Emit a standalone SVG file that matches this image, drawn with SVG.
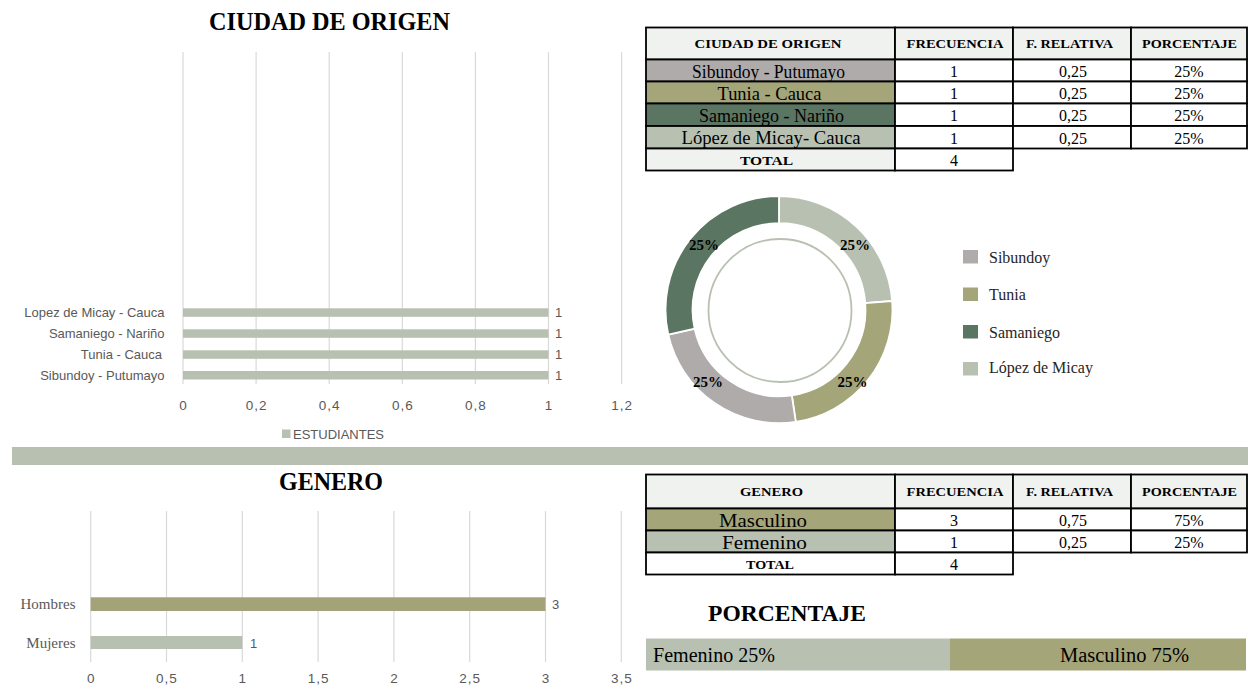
<svg xmlns="http://www.w3.org/2000/svg" width="1248" height="690" viewBox="0 0 1248 690">
<style>
.serif{font-family:"Liberation Serif","Times New Roman",serif}
.sans{font-family:"Liberation Sans",Arial,sans-serif}
.grid{stroke:#d9d9d9;stroke-width:1.2}
.cell{stroke:#000;stroke-width:1.8}
.hdr{font-family:"Liberation Serif","Times New Roman",serif;font-weight:bold;font-size:12px;fill:#000}
.body{font-family:"Liberation Serif","Times New Roman",serif;font-size:19px;fill:#000}
.num{font-family:"Liberation Serif","Times New Roman",serif;font-size:16px;fill:#000}
.title{font-family:"Liberation Serif","Times New Roman",serif;font-weight:bold;fill:#000}
.axis{font-family:"Liberation Sans",Arial,sans-serif;font-size:13.5px;fill:#595959;letter-spacing:1px}
.cat{font-family:"Liberation Sans",Arial,sans-serif;font-size:13px;fill:#595959}
.catS{font-family:"Liberation Serif","Times New Roman",serif;font-size:15px;fill:#595959}
.leg{font-family:"Liberation Serif","Times New Roman",serif;font-size:16px;fill:#262626}
.pct{font-family:"Liberation Serif","Times New Roman",serif;font-weight:bold;font-size:15px;fill:#000}
.c-sib{fill:#afabab}
.c-tun{fill:#a5a57a}
.c-sam{fill:#5b7563}
.c-lop{fill:#b8c1b1}
.c-hdr{fill:#f0f2f0}
</style>
<rect width="1248" height="690" fill="#fff"/>

<!-- Top-left bar chart -->
<g id="chart-ciudad">
  <text class="title" x="209" y="29.5" font-size="25.5" textLength="241" lengthAdjust="spacingAndGlyphs">CIUDAD DE ORIGEN</text>
  <g id="grid-top">
    <line class="grid" x1="183" y1="52" x2="183" y2="384"/>
    <line class="grid" x1="256.1" y1="52" x2="256.1" y2="384"/>
    <line class="grid" x1="329.2" y1="52" x2="329.2" y2="384"/>
    <line class="grid" x1="402.3" y1="52" x2="402.3" y2="384"/>
    <line class="grid" x1="475.4" y1="52" x2="475.4" y2="384"/>
    <line class="grid" x1="548.5" y1="52" x2="548.5" y2="384"/>
    <line class="grid" x1="621.6" y1="52" x2="621.6" y2="384"/>
  </g>
  <g id="bars-top" class="c-lop">
    <rect x="183" y="308.3" width="365.5" height="8.5"/>
    <rect x="183" y="329.3" width="365.5" height="8.5"/>
    <rect x="183" y="350.3" width="365.5" height="8.5"/>
    <rect x="183" y="371" width="365.5" height="8.5"/>
  </g>
  <g text-anchor="end">
    <text class="cat" x="164.5" y="316.5">Lopez de Micay - Cauca</text>
    <text class="cat" x="164.5" y="337.5">Samaniego - Nariño</text>
    <text class="cat" x="162" y="358.5">Tunia - Cauca</text>
    <text class="cat" x="164.5" y="379.5">Sibundoy - Putumayo</text>
  </g>
  <g>
    <text class="cat" x="555" y="316.5">1</text>
    <text class="cat" x="555" y="337.5">1</text>
    <text class="cat" x="555" y="358.5">1</text>
    <text class="cat" x="555" y="379.5">1</text>
  </g>
  <g text-anchor="middle">
    <text class="axis" x="183.5" y="410">0</text>
    <text class="axis" x="256.6" y="410">0,2</text>
    <text class="axis" x="329.7" y="410">0,4</text>
    <text class="axis" x="402.8" y="410">0,6</text>
    <text class="axis" x="475.9" y="410">0,8</text>
    <text class="axis" x="549" y="410">1</text>
    <text class="axis" x="622.1" y="410">1,2</text>
  </g>
  <rect class="c-lop" x="282" y="429.5" width="8.5" height="8.5"/>
  <text class="cat" x="293" y="439" font-size="12.5">ESTUDIANTES</text>
</g>

<!-- Top table -->
<g id="table-ciudad">
  <rect class="cell c-hdr" x="646" y="27.5" width="249" height="32"/>
  <rect class="cell c-hdr" x="895" y="27.5" width="118" height="32"/>
  <rect class="cell c-hdr" x="1013" y="27.5" width="118" height="32"/>
  <rect class="cell c-hdr" x="1131" y="27.5" width="116" height="32"/>
  <rect class="cell c-sib" x="646" y="59.5" width="249" height="22"/>
  <rect class="cell c-tun" x="646" y="81.5" width="249" height="22"/>
  <rect class="cell c-sam" x="646" y="103.5" width="249" height="22.5"/>
  <rect class="cell c-lop" x="646" y="126" width="249" height="22.5"/>
  <rect class="cell c-hdr" x="646" y="148.5" width="249" height="22"/>
  <g fill="#fff">
    <rect class="cell" x="895" y="59.5" width="118" height="22"/>
    <rect class="cell" x="1013" y="59.5" width="118" height="22"/>
    <rect class="cell" x="1131" y="59.5" width="116" height="22"/>
    <rect class="cell" x="895" y="81.5" width="118" height="22"/>
    <rect class="cell" x="1013" y="81.5" width="118" height="22"/>
    <rect class="cell" x="1131" y="81.5" width="116" height="22"/>
    <rect class="cell" x="895" y="103.5" width="118" height="22.5"/>
    <rect class="cell" x="1013" y="103.5" width="118" height="22.5"/>
    <rect class="cell" x="1131" y="103.5" width="116" height="22.5"/>
    <rect class="cell" x="895" y="126" width="118" height="22.5"/>
    <rect class="cell" x="1013" y="126" width="118" height="22.5"/>
    <rect class="cell" x="1131" y="126" width="116" height="22.5"/>
    <rect class="cell" x="895" y="148.5" width="118" height="22"/>
  </g>
  <g text-anchor="middle">
    <text class="hdr" x="768" y="48" textLength="147" lengthAdjust="spacingAndGlyphs">CIUDAD DE ORIGEN</text>
    <text class="hdr" x="955" y="48" textLength="97" lengthAdjust="spacingAndGlyphs">FRECUENCIA</text>
    <text class="hdr" x="1069.5" y="48" textLength="87" lengthAdjust="spacingAndGlyphs">F. RELATIVA</text>
    <text class="hdr" x="1189.5" y="48" textLength="95" lengthAdjust="spacingAndGlyphs">PORCENTAJE</text>
    <text class="body" x="768.5" y="77.5" textLength="153" lengthAdjust="spacingAndGlyphs">Sibundoy - Putumayo</text>
    <text class="body" x="769.5" y="99.5" textLength="104" lengthAdjust="spacingAndGlyphs">Tunia - Cauca</text>
    <text class="body" x="771.5" y="121.5" textLength="145" lengthAdjust="spacingAndGlyphs">Samaniego  - Nariño</text>
    <text class="body" x="771" y="144" textLength="179" lengthAdjust="spacingAndGlyphs">López de Micay- Cauca</text>
    <text class="hdr" x="766.5" y="164.5" textLength="53" lengthAdjust="spacingAndGlyphs">TOTAL</text>
    <text class="num" x="954" y="77">1</text>
    <text class="num" x="1073" y="77">0,25</text>
    <text class="num" x="1189" y="77">25%</text>
    <text class="num" x="954" y="99">1</text>
    <text class="num" x="1073" y="99">0,25</text>
    <text class="num" x="1189" y="99">25%</text>
    <text class="num" x="954" y="121">1</text>
    <text class="num" x="1073" y="121">0,25</text>
    <text class="num" x="1189" y="121">25%</text>
    <text class="num" x="954" y="143.5">1</text>
    <text class="num" x="1073" y="143.5">0,25</text>
    <text class="num" x="1189" y="143.5">25%</text>
    <text class="num" x="954" y="165.5">4</text>
  </g>
</g>

<!-- Donut -->
<g id="donut" stroke="#fff" stroke-width="1.8">
  <path class="c-lop" d="M779,196.2 A113.5,113.5 0 0 1 892.17,300.99 L865.24,303.06 A86.5,86.5 0 0 0 779,223.2 Z"/>
  <path class="c-tun" d="M892.17,300.99 A113.5,113.5 0 0 1 795.78,421.95 L791.79,395.25 A86.5,86.5 0 0 0 865.24,303.06 Z"/>
  <path class="c-sib" d="M795.78,421.95 A113.5,113.5 0 0 1 668.28,334.65 L694.62,328.72 A86.5,86.5 0 0 0 791.79,395.25 Z"/>
  <path class="c-sam" d="M668.28,334.65 A113.5,113.5 0 0 1 779,196.2 L779,223.2 A86.5,86.5 0 0 0 694.62,328.72 Z"/>
</g>
<circle id="donut-inner" cx="780" cy="310.5" r="71.5" fill="none" stroke="#b8c1b1" stroke-width="1.8"/>
<g id="donut-labels" text-anchor="middle">
  <text class="pct" x="855" y="249.5">25%</text>
  <text class="pct" x="704" y="249.5">25%</text>
  <text class="pct" x="708" y="386.5">25%</text>
  <text class="pct" x="852.5" y="386.5">25%</text>
</g>
<g id="donut-legend">
  <rect class="c-sib" x="963" y="250" width="15" height="13.5"/>
  <rect class="c-tun" x="963" y="287.5" width="15" height="13.5"/>
  <rect class="c-sam" x="963" y="325" width="15" height="13.5"/>
  <rect class="c-lop" x="963" y="362" width="15" height="13.5"/>
  <text class="leg" x="989" y="263">Sibundoy</text>
  <text class="leg" x="989" y="300">Tunia</text>
  <text class="leg" x="989" y="337.5">Samaniego</text>
  <text class="leg" x="989" y="373">López de Micay</text>
</g>

<!-- Separator band -->
<rect id="band" class="c-lop" x="12" y="447" width="1236" height="18"/>

<!-- Bottom-left bar chart -->
<g id="chart-genero">
  <text class="title" x="279" y="490" font-size="26" textLength="104" lengthAdjust="spacingAndGlyphs">GENERO</text>
  <g id="grid-bottom">
    <line class="grid" x1="90.7" y1="511" x2="90.7" y2="662"/>
    <line class="grid" x1="166.5" y1="511" x2="166.5" y2="662"/>
    <line class="grid" x1="242.3" y1="511" x2="242.3" y2="662"/>
    <line class="grid" x1="318.1" y1="511" x2="318.1" y2="662"/>
    <line class="grid" x1="393.9" y1="511" x2="393.9" y2="662"/>
    <line class="grid" x1="469.7" y1="511" x2="469.7" y2="662"/>
    <line class="grid" x1="545.5" y1="511" x2="545.5" y2="662"/>
    <line class="grid" x1="621.3" y1="511" x2="621.3" y2="662"/>
  </g>
  <rect x="90.7" y="597.3" width="454.8" height="13.7" fill="#a3a279"/>
  <rect class="c-lop" x="90.7" y="636" width="151.6" height="13"/>
  <text class="catS" x="75.5" y="609" text-anchor="end">Hombres</text>
  <text class="catS" x="75.5" y="647.5" text-anchor="end">Mujeres</text>
  <text class="cat" x="552" y="609" font-size="14">3</text>
  <text class="cat" x="250" y="647.5" font-size="14">1</text>
  <g text-anchor="middle">
    <text class="axis" x="91.2" y="683">0</text>
    <text class="axis" x="167" y="683">0,5</text>
    <text class="axis" x="242.8" y="683">1</text>
    <text class="axis" x="318.6" y="683">1,5</text>
    <text class="axis" x="394.4" y="683">2</text>
    <text class="axis" x="470.2" y="683">2,5</text>
    <text class="axis" x="546" y="683">3</text>
    <text class="axis" x="621.8" y="683">3,5</text>
  </g>
</g>

<!-- Bottom table -->
<g id="table-genero">
  <rect class="cell c-hdr" x="646" y="474.5" width="249" height="34"/>
  <rect class="cell c-hdr" x="895" y="474.5" width="118" height="34"/>
  <rect class="cell c-hdr" x="1013" y="474.5" width="118" height="34"/>
  <rect class="cell c-hdr" x="1131" y="474.5" width="116" height="34"/>
  <rect class="cell c-tun" x="646" y="508.5" width="249" height="22"/>
  <rect class="cell c-lop" x="646" y="530.5" width="249" height="22"/>
  <g fill="#fff">
    <rect class="cell" x="646" y="552.5" width="249" height="22"/>
    <rect class="cell" x="895" y="508.5" width="118" height="22"/>
    <rect class="cell" x="1013" y="508.5" width="118" height="22"/>
    <rect class="cell" x="1131" y="508.5" width="116" height="22"/>
    <rect class="cell" x="895" y="530.5" width="118" height="22"/>
    <rect class="cell" x="1013" y="530.5" width="118" height="22"/>
    <rect class="cell" x="1131" y="530.5" width="116" height="22"/>
    <rect class="cell" x="895" y="552.5" width="118" height="22"/>
  </g>
  <g text-anchor="middle">
    <text class="hdr" x="771.5" y="496" textLength="63" lengthAdjust="spacingAndGlyphs">GENERO</text>
    <text class="hdr" x="955" y="496" textLength="97" lengthAdjust="spacingAndGlyphs">FRECUENCIA</text>
    <text class="hdr" x="1069.5" y="496" textLength="87" lengthAdjust="spacingAndGlyphs">F. RELATIVA</text>
    <text class="hdr" x="1189.5" y="496" textLength="95" lengthAdjust="spacingAndGlyphs">PORCENTAJE</text>
    <text class="body" x="763" y="526.5" textLength="88" lengthAdjust="spacingAndGlyphs">Masculino</text>
    <text class="body" x="764.5" y="548.5" textLength="85" lengthAdjust="spacingAndGlyphs">Femenino</text>
    <text class="hdr" x="770" y="569" textLength="48" lengthAdjust="spacingAndGlyphs">TOTAL</text>
    <text class="num" x="954" y="526">3</text>
    <text class="num" x="1073" y="526">0,75</text>
    <text class="num" x="1189" y="526">75%</text>
    <text class="num" x="954" y="548">1</text>
    <text class="num" x="1073" y="548">0,25</text>
    <text class="num" x="1189" y="548">25%</text>
    <text class="num" x="954" y="570">4</text>
  </g>
</g>

<!-- Percentage stacked bar -->
<g id="porcentaje">
  <text class="title" x="708" y="620.5" font-size="23" textLength="158" lengthAdjust="spacingAndGlyphs">PORCENTAJE</text>
  <rect class="c-lop" x="646" y="638.5" width="304" height="32"/>
  <rect class="c-tun" x="950" y="638.5" width="296" height="32"/>
  <text class="serif" x="653" y="662" font-size="20" textLength="122" lengthAdjust="spacingAndGlyphs" fill="#000">Femenino 25%</text>
  <text class="serif" x="1060" y="662" font-size="20" textLength="129" lengthAdjust="spacingAndGlyphs" fill="#000">Masculino 75%</text>
</g>
</svg>
